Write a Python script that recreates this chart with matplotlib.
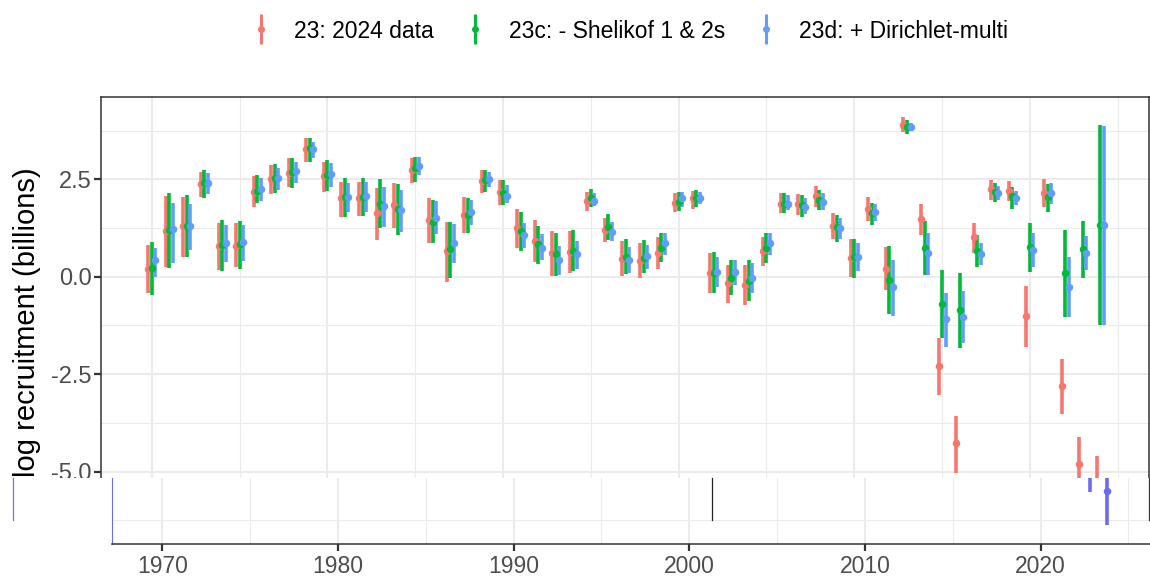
import matplotlib
matplotlib.use("Agg")
import matplotlib.pyplot as plt
from matplotlib.lines import Line2D
from matplotlib.patches import Rectangle
import numpy as np

plt.rcParams['font.family'] = ['Liberation Sans', 'DejaVu Sans']
plt.rcParams['axes.unicode_minus'] = False

years = list(range(1970, 2025))

series_names = ["23: 2024 data", "23c: - Shelikof 1 & 2s", "23d: + Dirichlet-multi"]
series_colors = ["#F8766D", "#00BA38", "#619CFF"]

red_est = [0.20, 1.18, 1.30, 2.38, 0.79, 0.80, 2.18, 2.50, 2.67, 3.27,
           2.58, 2.01, 2.01, 1.63, 1.84, 2.75, 1.45, 0.66, 1.58, 2.46,
           2.18, 1.24, 0.92, 0.62, 0.64, 1.95, 1.21, 0.45, 0.41, 0.62,
           1.90, 2.01, 0.09, -0.17, -0.21, 0.66, 1.88, 1.86, 2.07, 1.30,
           0.47, 1.75, 0.21, 3.89, 1.47, -2.29, -4.28, 1.01, 2.24, 2.21,
           -1.01, 2.14, -2.81, -4.81, -5.49]
red_lo = [-0.43, 0.26, 0.51, 2.05, 0.17, 0.24, 1.80, 2.12, 2.31, 2.95,
          2.18, 1.54, 1.56, 0.94, 1.24, 2.41, 0.87, -0.13, 1.11, 2.16,
          1.84, 0.73, 0.38, 0.02, 0.09, 1.69, 0.88, 0.02, -0.02, 0.21,
          1.65, 1.75, -0.43, -0.68, -0.73, 0.27, 1.63, 1.58, 1.80, 0.98,
          0.00, 1.44, -0.34, 3.72, 1.07, -3.04, -5.05, 0.62, 1.97, 1.95,
          -1.80, 1.78, -3.52, -5.53, -6.38]
red_hi = [0.81, 2.08, 2.05, 2.70, 1.37, 1.39, 2.59, 2.87, 3.04, 3.55,
          2.95, 2.44, 2.44, 2.29, 2.41, 3.05, 2.01, 1.41, 2.05, 2.75,
          2.48, 1.75, 1.45, 1.18, 1.18, 2.18, 1.52, 0.92, 0.86, 1.03,
          2.14, 2.21, 0.60, 0.30, 0.30, 1.03, 2.14, 2.12, 2.33, 1.63,
          0.98, 2.05, 0.77, 4.09, 1.88, -1.56, -3.58, 1.37, 2.48, 2.46,
          -0.24, 2.50, -2.10, -4.11, -4.60]

green_est = [0.23, 1.20, 1.30, 2.40, 0.81, 0.83, 2.21, 2.53, 2.70, 3.30,
             2.61, 2.04, 2.05, 1.88, 1.75, 2.78, 1.41, 0.70, 1.58, 2.48,
             2.16, 1.18, 0.84, 0.58, 0.67, 2.01, 1.28, 0.51, 0.47, 0.74,
             1.92, 2.03, 0.09, -0.02, -0.10, 0.73, 1.88, 1.84, 1.98, 1.28,
             0.51, 1.63, -0.09, 3.85, 0.74, -0.70, -0.86, 0.67, 2.18, 2.07,
             0.77, 2.04, 0.09, 0.70, 1.33]
green_lo = [-0.47, 0.23, 0.50, 2.01, 0.15, 0.21, 1.90, 2.14, 2.29, 2.95,
            2.20, 1.54, 1.56, 1.24, 1.07, 2.44, 0.86, -0.04, 1.13, 2.18,
            1.84, 0.67, 0.33, 0.02, 0.15, 1.78, 0.94, 0.07, 0.10, 0.37,
            1.69, 1.80, -0.41, -0.47, -0.62, 0.34, 1.63, 1.54, 1.71, 0.88,
            -0.04, 1.34, -0.96, 3.66, 0.04, -1.56, -1.84, 0.26, 1.93, 1.75,
            0.13, 1.67, -1.04, -0.04, -1.24]
green_hi = [0.90, 2.14, 2.10, 2.74, 1.46, 1.44, 2.61, 2.89, 3.06, 3.57,
            3.00, 2.53, 2.53, 2.50, 2.38, 3.08, 1.98, 1.41, 2.01, 2.75,
            2.48, 1.67, 1.30, 1.11, 1.20, 2.24, 1.61, 0.98, 0.94, 1.11,
            2.18, 2.22, 0.64, 0.44, 0.43, 1.11, 2.14, 2.10, 2.22, 1.58,
            0.98, 1.90, 0.79, 4.02, 1.44, 0.17, 0.10, 1.07, 2.41, 2.31,
            1.39, 2.38, 1.20, 1.43, 3.89]

blue_est = [0.43, 1.22, 1.30, 2.41, 0.86, 0.88, 2.24, 2.54, 2.72, 3.28,
            2.63, 2.05, 2.07, 1.81, 1.71, 2.85, 1.52, 0.86, 1.67, 2.52,
            2.07, 1.07, 0.75, 0.43, 0.58, 1.94, 1.15, 0.43, 0.53, 0.86,
            2.01, 2.03, 0.13, 0.13, -0.03, 0.86, 1.88, 1.80, 1.92, 1.26,
            0.51, 1.67, -0.27, 3.85, 0.60, -1.09, -1.03, 0.58, 2.16, 2.01,
            0.68, 2.14, -0.27, 0.62, 1.33]
blue_lo = [0.00, 0.36, 0.68, 2.12, 0.39, 0.41, 1.95, 2.23, 2.41, 3.06,
           2.31, 1.67, 1.67, 1.28, 1.15, 2.61, 1.09, 0.34, 1.33, 2.31,
           1.90, 0.73, 0.43, 0.04, 0.19, 1.81, 0.92, 0.09, 0.19, 0.56,
           1.80, 1.86, -0.27, -0.21, -0.41, 0.56, 1.71, 1.61, 1.71, 0.98,
           0.15, 1.44, -1.01, 3.75, 0.04, -1.80, -1.71, 0.30, 1.97, 1.84,
           0.24, 1.88, -1.04, 0.17, -1.24]
blue_hi = [0.73, 1.90, 1.88, 2.67, 1.33, 1.33, 2.53, 2.78, 2.95, 3.47,
           2.91, 2.41, 2.44, 2.31, 2.22, 3.08, 1.95, 1.35, 1.98, 2.69,
           2.35, 1.39, 1.09, 0.79, 0.92, 2.14, 1.41, 0.77, 0.81, 1.13,
           2.18, 2.18, 0.51, 0.44, 0.34, 1.13, 2.10, 2.01, 2.14, 1.50,
           0.87, 1.88, 0.44, 3.95, 1.11, -0.41, -0.36, 0.86, 2.33, 2.21,
           1.13, 2.40, 0.50, 1.04, 3.87]

series = [(red_est, red_lo, red_hi), (green_est, green_lo, green_hi),
          (blue_est, blue_lo, blue_hi)]
dodge = [-0.2, 0.0, 0.2]

y_ticks = [2.5, 0.0, -2.5, -5.0]
y_tick_labels = ["2.5", "0.0", "-2.5", "-5.0"]
y_minor = [3.75, 1.25, -1.25, -3.75, -6.25]
x_ticks = [1970, 1980, 1990, 2000, 2010, 2020]
x_minor = [1975, 1985, 1995, 2005, 2015, 2025]

W, H = 1150, 581
fig = plt.figure(figsize=(W / 100, H / 100), dpi=100)

XLIM = (1967.11, 2026.75)
YLIM = (-6.861, 4.614)
GRID = "#EBEBEB"
DARK = "#333333"
TXT = "#4D4D4D"


def draw_series(ax, colors):
    yrs = np.array(years, dtype=float)
    for (est, lo, hi), off, c in zip(series, dodge, colors):
        ax.vlines(yrs + off, lo, hi, colors=c, lw=2.6, zorder=3)
    for (est, lo, hi), off, c in zip(series, dodge, colors):
        ax.plot(yrs + off, est, 'o', color=c, ms=5.4, mew=0, zorder=4)


def style_grid(ax):
    ax.set_axisbelow(True)
    for v in x_ticks:
        ax.axvline(v, color=GRID, lw=1.5, zorder=0)
    for v in x_minor:
        ax.axvline(v, color=GRID, lw=0.8, zorder=0)
    for v in y_ticks:
        ax.axhline(v, color=GRID, lw=1.5, zorder=0)
    for v in y_minor:
        ax.axhline(v, color=GRID, lw=0.8, zorder=0)


# main panel
ax = fig.add_axes([101 / W, (H - 544) / H, 1047.5 / W, (544 - 97) / H])
ax.set_zorder(1)
style_grid(ax)
draw_series(ax, series_colors)
ax.set_xlim(*XLIM)
ax.set_ylim(*YLIM)
ax.set_yticks(y_ticks)
ax.set_yticklabels(y_tick_labels)
ax.set_xticks(x_ticks)
ax.tick_params(axis='x', labelbottom=False, bottom=False)
for s in ax.spines.values():
    s.set_color(DARK)
    s.set_linewidth(1.1)
ax.tick_params(axis='y', length=5, width=1.6, color=DARK, labelcolor=TXT,
               labelsize=17, pad=1.5)

# legend
handles = []
for c in series_colors:
    h1 = Line2D([], [], marker='|', ls='none', color=c, ms=21, mew=2.2)
    h2 = Line2D([], [], marker='o', ls='none', color=c, ms=5, mew=0)
    handles.append((h1, h2))
fig.legend(handles, series_names, loc='center', bbox_to_anchor=(629 / W, 1 - 31 / H),
           ncol=3, frameon=False, fontsize=16.5, handlelength=1.0,
           handletextpad=0.95, columnspacing=1.3, borderpad=0, borderaxespad=0)

# y label
fig.text(27.5 / W, 1 - 322 / H, "log recruitment (billions)", rotation=90,
         ha='center', va='center', fontsize=21, color='black')

# white cover over the lower band
fig.add_artist(Rectangle((0, 0), 1, (H - 478) / H, transform=fig.transFigure,
                         facecolor='white', edgecolor='none', zorder=2))

# shifted lower strip
ax2 = fig.add_axes([111.6 / W, (H - 544) / H, 1047.5 / W, (544 - 478) / H])
ax2.set_zorder(3)
ax2.set_facecolor('white')
style_grid(ax2)
strip_colors = ["#6C6CF2", "#6C6CF2", "#6C6CF2"]
draw_series(ax2, strip_colors)
ax2.set_xlim(*XLIM)
ax2.set_ylim(YLIM[0], -5.167)
ax2.set_xticks(x_ticks)
ax2.set_yticks([])
ax2.spines['top'].set_visible(False)
ax2.spines['right'].set_visible(False)
ax2.spines['left'].set_color("#6C6CF2")
ax2.spines['left'].set_linewidth(0.8)
ax2.spines['bottom'].set_color(DARK)
ax2.spines['bottom'].set_linewidth(1.1)
ax2.tick_params(axis='x', length=5, width=1.6, color=DARK, labelcolor=TXT,
                labelsize=16.5, pad=3)

# rendering artefact lines in the lower band
for xp, col in [(13.3, "#7777cc"), (711.7, "#222222"), (1149, DARK)]:
    fig.add_artist(Line2D([xp / W, xp / W], [1 - 478 / H, 1 - 520 / H],
                          transform=fig.transFigure, color=col, lw=0.9, zorder=5))

fig.savefig("out.png", dpi=100)
